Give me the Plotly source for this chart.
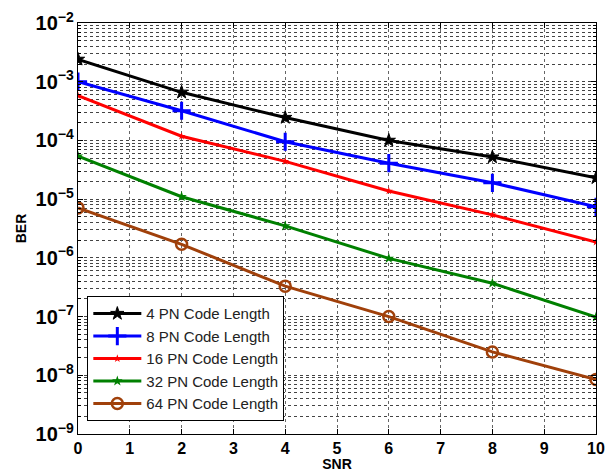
import plotly.graph_objects as go

snr = [0, 2, 4, 6, 8, 10]
ber_4 = [2.4e-3, 6.6e-4, 2.45e-4, 1.0e-4, 5.2e-5, 2.3e-5]
ber_8 = [1.0e-3, 3.2e-4, 9.5e-5, 4.1e-5, 1.9e-5, 7.4e-6]
ber_16 = [5.8e-4, 1.18e-4, 4.4e-5, 1.38e-5, 5.4e-6, 1.85e-6]
ber_32 = [5.4e-5, 1.1e-5, 3.5e-6, 9.8e-7, 3.7e-7, 9.8e-8]
ber_64 = [7.1e-6, 1.7e-6, 3.3e-7, 1.0e-7, 2.5e-8, 8.5e-9]

names = ["4 PN Code Length", "8 PN Code Length", "16 PN Code Length",
         "32 PN Code Length", "64 PN Code Length"]
series = [ber_4, ber_8, ber_16, ber_32, ber_64]
colors = ["#000000", "#0000ff", "#ff0000", "#008000", "#a0400a"]
markers = [
    dict(symbol="star", size=10, line=dict(width=1, color="#000000")),
    dict(symbol="cross-thin-open", size=13, line=dict(width=3, color="#0000ff")),
    dict(symbol="star", size=6, line=dict(width=0)),
    dict(symbol="star", size=8, line=dict(width=0)),
    dict(symbol="circle-open", size=11, line=dict(width=2.5, color="#a0400a")),
]

x_ticks = list(range(0, 11))

fig = go.Figure()
for name, ys, c, mk in zip(names, series, colors, markers):
    mk = dict(mk)
    mk["color"] = c
    fig.add_trace(go.Scatter(x=snr, y=ys, name=name, mode="lines+markers",
                             line=dict(color=c, width=3), marker=mk))

FONT = "Liberation Sans, Arial, sans-serif"
fig.update_layout(
    width=605, height=472,
    margin=dict(l=78, r=9, t=23, b=38, autoexpand=False),
    paper_bgcolor="white", plot_bgcolor="white",
    font=dict(family=FONT, color="#000000", size=14),
    showlegend=True,
    legend=dict(x=0.018, y=0.335, xanchor="left", yanchor="top",
                bgcolor="white", bordercolor="#000000", borderwidth=1,
                font=dict(size=15, color="#222222"), tracegroupgap=0,
                itemwidth=48),
)
fig.update_xaxes(
    range=[0, 10], tickvals=x_ticks, ticktext=[str(v) for v in x_ticks],
    automargin=False,
    showline=True, linecolor="#000000", linewidth=1, mirror="ticks",
    ticks="inside", ticklen=5, tickcolor="#000000",
    showgrid=True, gridcolor="#666666", griddash="dot", gridwidth=1,
    zeroline=False,
    tickfont=dict(size=16, family=FONT, weight="bold"),
    title=dict(text="<b>SNR</b>", font=dict(size=14), standoff=4),
)
fig.update_yaxes(
    type="log", range=[-9, -2], dtick=1, exponentformat="power",
    automargin=False,
    showline=True, linecolor="#000000", linewidth=1, mirror="ticks",
    ticks="inside", ticklen=5, tickcolor="#000000",
    showgrid=True, gridcolor="#444444", griddash="dot", gridwidth=1,
    minor=dict(dtick="D1", showgrid=True, gridcolor="#444444", griddash="dot",
               ticks="inside", ticklen=3, tickcolor="#000000"),
    zeroline=False,
    tickfont=dict(size=16, family=FONT, weight="bold"),
    title=dict(text="<b>BER</b>", font=dict(size=14), standoff=5),
)

fig.write_html("out.html")
